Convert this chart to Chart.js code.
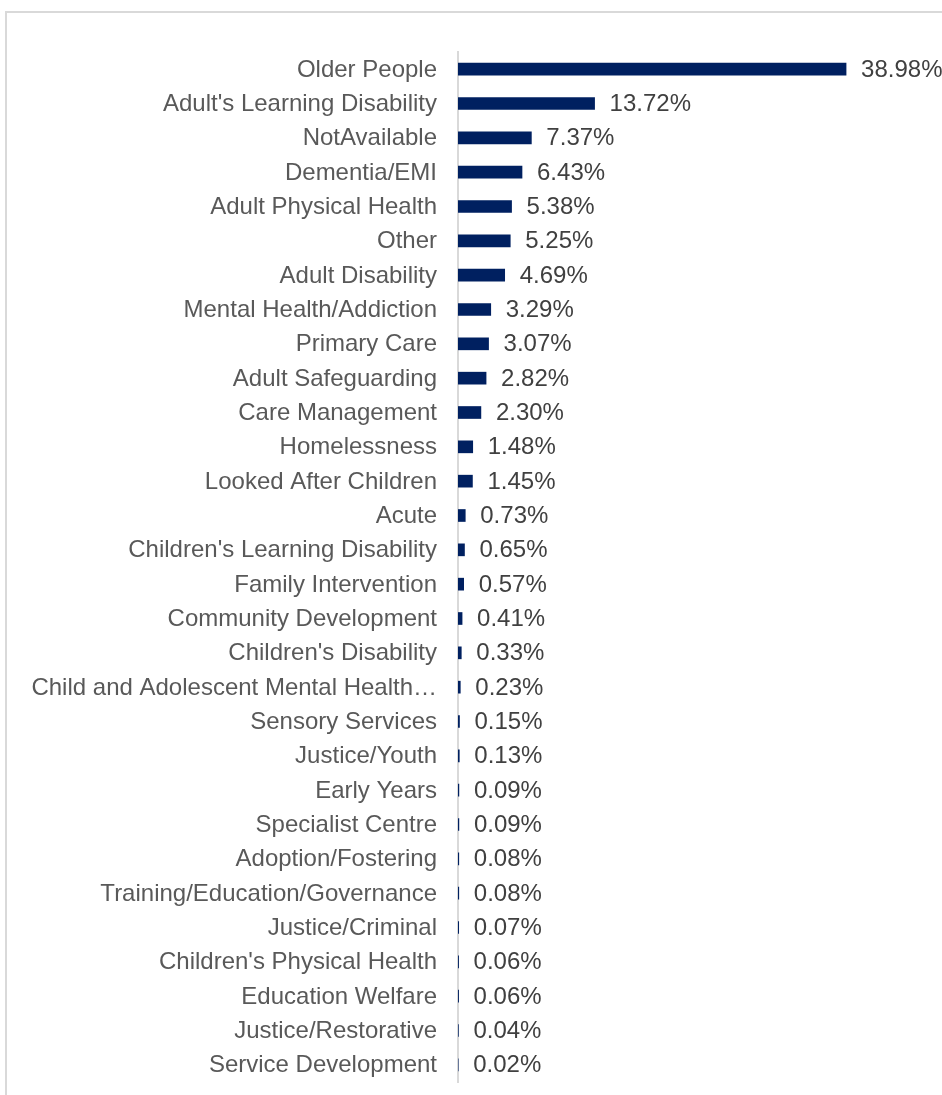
<!DOCTYPE html>
<html>
<head>
<meta charset="utf-8">
<script src="https://cdn.jsdelivr.net/npm/chart.js@4/dist/chart.umd.min.js"></script>
<style>
    html, body { margin: 0; padding: 0; background: #ffffff; overflow: hidden; }
    .frame {
        position: absolute; left: 5px; top: 11px;
        width: 1000px; height: 1200px;
        border: 2px solid #d9d9d9; box-sizing: border-box;
    }
    .chart-wrap { position: absolute; left: 0; top: 0; width: 942px; height: 1095px; }
</style>
</head>
<body>
<div class="frame"></div>
<div class="chart-wrap"><canvas id="serviceChart"></canvas></div>
<script>
const categories = [
    'Older People',
    "Adult's Learning Disability",
    'NotAvailable',
    'Dementia/EMI',
    'Adult Physical Health',
    'Other',
    'Adult Disability',
    'Mental Health/Addiction',
    'Primary Care',
    'Adult Safeguarding',
    'Care Management',
    'Homelessness',
    'Looked After Children',
    'Acute',
    "Children's Learning Disability",
    'Family Intervention',
    'Community Development',
    "Children's Disability",
    'Child and Adolescent Mental Health\u2026',
    'Sensory Services',
    'Justice/Youth',
    'Early Years',
    'Specialist Centre',
    'Adoption/Fostering',
    'Training/Education/Governance',
    'Justice/Criminal',
    "Children's Physical Health",
    'Education Welfare',
    'Justice/Restorative',
    'Service Development',
];

const shares = [
    38.98, 13.72, 7.37, 6.43, 5.38, 5.25, 4.69, 3.29, 3.07, 2.82,
    2.30, 1.48, 1.45, 0.73, 0.65, 0.57, 0.41, 0.33, 0.23, 0.15,
    0.13, 0.09, 0.09, 0.08, 0.08, 0.07, 0.06, 0.06, 0.04, 0.02,
];

const fontFamily = '"Liberation Sans", Arial, sans-serif';

const colors = {
    bar: '#002060',
    label: '#595959',
    value: '#404040',
    axis: '#d9d9d9',
};

// writes the percentage just past the end of each bar
const valueLabels = {
    id: 'valueLabels',
    afterDatasetsDraw(chart) {
        const { ctx } = chart;
        const meta = chart.getDatasetMeta(0);
        ctx.save();
        ctx.font = `24px ${fontFamily}`;
        ctx.fillStyle = colors.value;
        ctx.textAlign = 'left';
        ctx.textBaseline = 'middle';
        meta.data.forEach((bar, i) => {
            ctx.fillText(shares[i].toFixed(2) + '%', bar.x + 15, bar.y + 1);
        });
        ctx.restore();
    },
};

new Chart(document.getElementById('serviceChart'), {
    type: 'bar',
    data: {
        labels: categories,
        datasets: [
            {
                data: shares,
                backgroundColor: colors.bar,
                barThickness: 12,
            },
        ],
    },
    options: {
        indexAxis: 'y',
        responsive: true,
        maintainAspectRatio: false,
        animation: false,
        layout: {
            padding: { top: 52, bottom: 13, left: 0, right: 36 },
        },
        scales: {
            x: {
                display: false,
                min: 0,
                max: 45,
            },
            y: {
                afterFit(scale) {
                    scale.width = 458;
                    scale.paddingTop = 0;
                    scale.paddingBottom = 0;
                },
                grid: { display: false, drawTicks: false },
                border: { display: true, color: colors.axis, width: 2 },
                ticks: {
                    padding: 21,
                    labelOffset: 1,
                    autoSkip: false,
                    color: colors.label,
                    font: { family: fontFamily, size: 24 },
                },
            },
        },
        plugins: {
            legend: { display: false },
            tooltip: { enabled: false },
        },
    },
    plugins: [valueLabels],
});
</script>
</body>
</html>
